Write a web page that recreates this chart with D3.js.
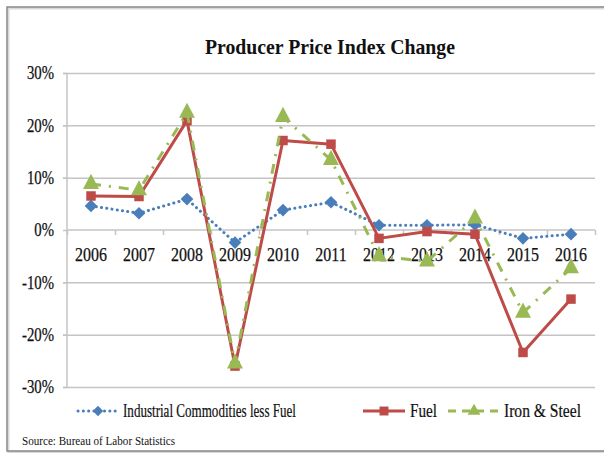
<!DOCTYPE html>
<html><head><meta charset="utf-8">
<script src="https://cdn.jsdelivr.net/npm/d3@7"></script>
<style>body{margin:0;background:#fff}svg{display:block}</style>
</head><body>
<svg id="c" width="604" height="453"></svg>
<script>
const years = ["2006","2007","2008","2009","2010","2011","2012","2013","2014","2015","2016"];
const industrial = [4.6, 3.2, 5.9, -2.4, 3.8, 5.3, 0.9, 0.9, 1.0, -1.6, -0.8];
const fuel = [6.5, 6.4, 20.9, -26.0, 17.1, 16.4, -1.6, -0.3, -0.8, -23.4, -13.2];
const ironSteel = [8.8, 7.6, 22.4, -25.5, 21.6, 13.4, -5.0, -6.0, 2.2, -15.8, -7.3];
const yTicks = [-30, -20, -10, 0, 10, 20, 30];
const seriesNames = ["Industrial Commodities less Fuel", "Fuel", "Iron & Steel"];
const titleText = "Producer Price Index Change";
const sourceText = "Source: Bureau of Labor Statistics";

(function () {
const FONT = "'Liberation Serif','DejaVu Serif',serif";
const svg = d3.select("#c");
const pL = 67, pR = 595, pT = 73, pB = 387;

// chart border
svg.append("rect").attr("x", 8.5).attr("y", 8.5).attr("width", 640).attr("height", 443.5)
  .attr("fill", "none").attr("stroke", "#d9d9d9").attr("stroke-width", 2);
svg.append("rect").attr("x", 7).attr("y", 7).attr("width", 640).attr("height", 444)
  .attr("fill", "none").attr("stroke", "#868686").attr("stroke-width", 1.5);

const xb = d3.scaleBand().domain(years).range([pL, pR]);
const xc = d => xb(d) + xb.bandwidth() / 2;
const xi = d3.scaleLinear().domain([0, years.length]).range([pL, pR]);
const y = d3.scaleLinear().domain([-30, 30]).range([pB, pT]);

function condense(sel, f) {
  sel.each(function () {
    const w = this.getComputedTextLength();
    d3.select(this).attr("textLength", w * f).attr("lengthAdjust", "spacingAndGlyphs");
  });
}
function fitTo(sel, w) {
  sel.attr("textLength", w).attr("lengthAdjust", "spacingAndGlyphs");
}

// gridlines
const grid = svg.append("g").attr("transform", `translate(${pL},0)`)
  .call(d3.axisLeft(y).tickValues(yTicks.filter(v => v !== 0)).tickSize(-(pR - pL)).tickFormat(""));
grid.select(".domain").remove();
grid.selectAll("line").attr("stroke", "#c4c4c4").attr("stroke-width", 1.5).attr("x1", -4);

// y axis
const ya = svg.append("g").attr("transform", `translate(${pL},0)`)
  .call(d3.axisLeft(y).tickValues(yTicks).tickSize(4).tickPadding(9).tickFormat(d => d + "%"));
ya.select(".domain").attr("stroke", "#c4c4c4").attr("stroke-width", 1.5).attr("d", `M0,${pT}V${pB}`);
ya.selectAll("line").attr("stroke", "#c4c4c4").attr("stroke-width", 1.5);
ya.selectAll("text").attr("font-family", FONT).attr("font-size", 18).attr("fill", "#111")
  .attr("stroke", "#111").attr("stroke-width", 0.25);
condense(ya.selectAll("text"), 0.82);

// x axis line with boundary ticks at 0%
const xa = svg.append("g").attr("transform", `translate(0,${y(0)})`)
  .call(d3.axisBottom(xi).tickValues(d3.range(years.length + 1)).tickSize(5).tickFormat(""));
xa.select(".domain").attr("stroke", "#c4c4c4").attr("stroke-width", 1.5).attr("d", `M${pL},0H${pR}`);
xa.selectAll("line").attr("stroke", "#c4c4c4").attr("stroke-width", 1.5);

// x labels
const xl = svg.append("g").attr("transform", `translate(0,${y(0)})`)
  .call(d3.axisBottom(xb).tickSize(0).tickPadding(18));
xl.select(".domain").remove();
xl.selectAll("text").attr("font-family", FONT).attr("font-size", 19).attr("fill", "#111")
  .attr("stroke", "#111").attr("stroke-width", 0.25);
condense(xl.selectAll("text"), 0.84);

// series
const colors = ["#4a7ebb", "#be4b48", "#98b954"];
const seriesData = [industrial, fuel, ironSteel];
const dashes = ["0.1,5.2", null, "10,8,2,8"];
const caps = ["round", "butt", "butt"];
const line = d3.line().x((d, i) => xc(years[i])).y(d => y(d));
const syms = [d3.symbolSquare, d3.symbolSquare, d3.symbolTriangle];
const rot = [" rotate(45)", "", " scale(1.05,1.15)"];

seriesData.forEach((vals, s) => {
  const g = svg.append("g");
  g.append("path").datum(vals).attr("d", line).attr("fill", "none")
    .attr("stroke", colors[s]).attr("stroke-width", 3)
    .attr("stroke-dasharray", dashes[s]).attr("stroke-linecap", caps[s])
    .attr("stroke-linejoin", "round");
  const size = [80, 90, 100][s];
  g.selectAll("path.m").data(vals).join("path").attr("class", "m")
    .attr("d", d3.symbol(syms[s], size))
    .attr("transform", (d, i) => `translate(${xc(years[i])},${y(d)})` + rot[s])
    .attr("fill", colors[s]);
});

// title
const t = svg.append("text").attr("x", 330).attr("y", 54).attr("text-anchor", "middle")
  .attr("font-family", FONT).attr("font-weight", "bold").attr("font-size", 22).attr("fill", "#111")
  .text(titleText);
fitTo(t, 250);

// legend
const legY = 411;
const legItems = [
  { x0: 78, x1: 118, tx: 123, w: 173 },
  { x0: 363, x1: 405, tx: 410, w: 27 },
  { x0: 448, x1: 500, tx: 504, w: 77 }
];
const legDash = ["0.1,5.2", null, "8,6"];
legItems.forEach((it, s) => {
  svg.append("line").attr("x1", it.x0).attr("x2", it.x1).attr("y1", legY).attr("y2", legY)
    .attr("stroke", colors[s]).attr("stroke-width", 3).attr("stroke-dasharray", legDash[s])
    .attr("stroke-linecap", caps[s]);
  const size = [55, 80, 70][s];
  svg.append("path").attr("d", d3.symbol(syms[s], size))
    .attr("transform", `translate(${(it.x0 + it.x1) / 2},${legY})` + (s === 0 ? " rotate(45)" : ""))
    .attr("fill", colors[s]);
  const tx = svg.append("text").attr("x", it.tx).attr("y", legY + 6)
    .attr("font-family", FONT).attr("font-size", 18).attr("fill", "#111")
    .attr("stroke", "#111").attr("stroke-width", 0.2).text(seriesNames[s]);
  fitTo(tx, it.w);
});

// source
const src = svg.append("text").attr("x", 22).attr("y", 445)
  .attr("font-family", FONT).attr("font-size", 13).attr("fill", "#111").text(sourceText);
fitTo(src, 153);
})();
</script>
</body></html>
